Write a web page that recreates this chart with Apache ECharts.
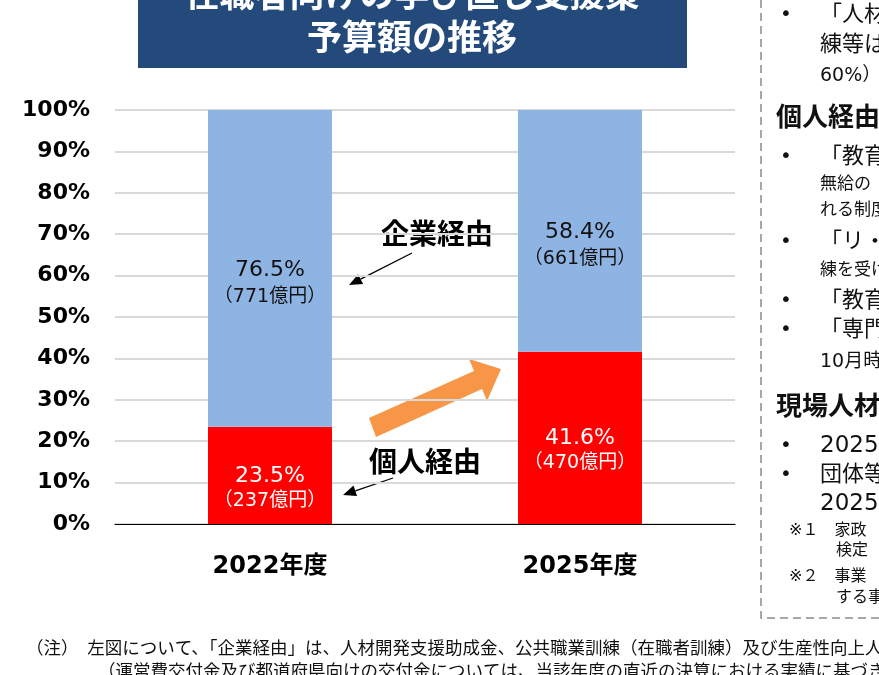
<!DOCTYPE html>
<html>
<head>
<meta charset="utf-8">
<script src="https://cdn.jsdelivr.net/npm/echarts@6/dist/echarts.min.js"></script>
<style>
  html, body { margin: 0; padding: 0; background: #fff; }
  #main { width: 879px; height: 675px; }
</style>
</head>
<body>
<div id="main"></div>
<script>
// 年度
const years = ['2022年度', '2025年度']
// 個人経由 / 企業経由 の割合(%)と金額(億円)
const kojinPct = [23.5, 41.6]
const kigyouPct = [76.5, 58.4]
const kojinOku = [237, 470]
const kigyouOku = [771, 661]
// 目盛
const yTicks = [0, 10, 20, 30, 40, 50, 60, 70, 80, 90, 100]

const jp = '"Noto Sans CJK JP", "Noto Sans", sans-serif'
const mix = '"DejaVu Sans", "Noto Sans CJK JP", sans-serif'

let labelFor = function(pcts, okus) {
    return function(p) {
        let i = p.dataIndex
        return `{p|${pcts[i].toFixed(1)}%}\n{o|（${okus[i]}億円）}`
    }
}

let arrowHead = function(x1, y1, x2, y2, len, w) {
    // 矢印の先端(x2,y2)
    let dx = x2 - x1, dy = y2 - y1
    let d = Math.sqrt(dx * dx + dy * dy)
    let ux = dx / d, uy = dy / d
    let bx = x2 - ux * len, by = y2 - uy * len
    return [[x2, y2], [bx - uy * w, by + ux * w], [bx + uy * w, by - ux * w]]
}

let thinArrow = function(x1, y1, x2, y2) {
    let head = arrowHead(x1, y1, x2, y2, 13, 5.5)
    return [
        { type: 'line', shape: { x1: x1, y1: y1, x2: (head[1][0] + head[2][0]) / 2, y2: (head[1][1] + head[2][1]) / 2 }, style: { stroke: '#000', lineWidth: 1.3 } },
        { type: 'polygon', shape: { points: head }, style: { fill: '#000' } }
    ]
}

let sideText = function(x, y, text, size, bold) {
    return {
        type: 'text', x: x, y: y,
        style: { text: text, font: `${bold ? 'bold ' : ''}${size}px ${bold ? jp : mix}`, fill: '#111', verticalAlign: 'middle' }
    }
}

let graphics = [
    // タイトル
    { type: 'rect', shape: { x: 138, y: -10, width: 549, height: 78 }, style: { fill: '#234a7b' } },
    { type: 'text', x: 412, y: -6, style: { text: '在職者向けの学び直し支援策', font: `bold 35px ${jp}`, fill: '#fff', align: 'center', verticalAlign: 'middle' } },
    { type: 'text', x: 412, y: 37, style: { text: '予算額の推移', font: `bold 35px ${jp}`, fill: '#fff', align: 'center', verticalAlign: 'middle' } },
    // 注釈
    { type: 'text', x: 437, y: 233, style: { text: '企業経由', font: `bold 28px ${jp}`, fill: '#000', align: 'center', verticalAlign: 'middle' } },
    { type: 'text', x: 425, y: 461, style: { text: '個人経由', font: `bold 28px ${jp}`, fill: '#000', align: 'center', verticalAlign: 'middle' } },
    // オレンジの矢印
    { type: 'polygon', shape: { points: [[369, 418], [474, 371], [469, 359], [501, 369], [487, 401], [482, 389], [376, 437]] }, style: { fill: '#f79646' } },
    // 右側の枠
    { type: 'rect', shape: { x: 761, y: -10, width: 200, height: 628 }, style: { fill: 'none', stroke: '#8c8c8c', lineWidth: 1.5, lineDash: [8, 5] } },
    sideText(780, 15, '•', 20), sideText(820, 15, '「人材', 22),
    sideText(820, 45, '練等は', 22),
    sideText(820, 76, '60%）', 19),
    sideText(776, 116, '個人経由', 26, true),
    sideText(780, 157, '•', 20), sideText(820, 157, '「教育', 22),
    sideText(820, 185, '無給の', 17),
    sideText(820, 211, 'れる制度', 17),
    sideText(780, 242, '•', 20), sideText(820, 242, '「リ・ス', 22),
    sideText(820, 271, '練を受け', 17),
    sideText(780, 301, '•', 20), sideText(820, 301, '「教育', 22),
    sideText(780, 330, '•', 20), sideText(820, 330, '「専門', 22),
    sideText(820, 362, '10月時', 19),
    sideText(776, 405, '現場人材', 26, true),
    sideText(780, 446, '•', 20), sideText(820, 446, '2025', 23),
    sideText(780, 475, '•', 20), sideText(820, 475, '団体等', 22),
    sideText(820, 504, '2025', 23),
    sideText(789, 531, '※１　家政', 16),
    sideText(836, 551, '検定', 16),
    sideText(789, 577, '※２　事業', 16),
    sideText(836, 598, 'する事', 16),
    // 下の注
    { type: 'text', x: 26, y: 647, style: { text: '（注）　左図について、「企業経由」は、人材開発支援助成金、公共職業訓練（在職者訓練）及び生産性向上人材', font: `17.5px ${jp}`, fill: '#111', verticalAlign: 'middle' } },
    { type: 'text', x: 98, y: 670, style: { text: '（運営費交付金及び都道府県向けの交付金については、当該年度の直近の決算における実績に基づき、', font: `17.5px ${jp}`, fill: '#111', verticalAlign: 'middle' } }
]
graphics = graphics.concat(thinArrow(412, 253, 349, 285))
graphics = graphics.concat(thinArrow(393, 478, 343, 495))

let myChart = echarts.init(document.getElementById('main'))
let option = {
    animation: false,
    backgroundColor: '#fff',
    grid: { left: 115, right: 144, top: 110, bottom: 151 },
    xAxis: {
        type: 'category',
        data: years,
        axisLine: { lineStyle: { color: '#000', width: 1.2 } },
        axisTick: { show: false },
        axisLabel: { margin: 31, fontSize: 24, fontWeight: 'bold', color: '#000', fontFamily: mix }
    },
    yAxis: {
        type: 'value',
        min: yTicks[0],
        max: yTicks[yTicks.length - 1],
        interval: 10,
        axisLine: { show: false },
        axisTick: { show: false },
        splitLine: { lineStyle: { color: '#d9d9d9', width: 2 } },
        axisLabel: { margin: 25, fontSize: 22, fontWeight: 'bold', color: '#000', fontFamily: mix, formatter: '{value}%', padding: [3, 0, 0, 0] }
    },
    series: [
        {
            name: '個人経由',
            type: 'bar',
            stack: 'total',
            barWidth: '40%',
            data: kojinPct,
            itemStyle: { color: '#ff0000' },
            label: {
                show: true, position: 'inside', offset: [0, 13],
                formatter: labelFor(kojinPct, kojinOku),
                color: '#fff', lineHeight: 25,
                rich: {
                    p: { fontSize: 22, color: '#fff', fontFamily: mix, lineHeight: 25 },
                    o: { fontSize: 19, color: '#fff', fontFamily: mix, lineHeight: 25 }
                }
            }
        },
        {
            name: '企業経由',
            type: 'bar',
            stack: 'total',
            barWidth: '40%',
            data: kigyouPct,
            itemStyle: { color: '#8eb4e3' },
            label: {
                show: true, position: 'inside', offset: [0, 15],
                formatter: labelFor(kigyouPct, kigyouOku),
                color: '#111', lineHeight: 27,
                rich: {
                    p: { fontSize: 22, color: '#111', fontFamily: mix, lineHeight: 27 },
                    o: { fontSize: 19, color: '#111', fontFamily: mix, lineHeight: 27 }
                }
            }
        }
    ],
    graphic: graphics
}
myChart.setOption(option)
</script>
</body>
</html>
